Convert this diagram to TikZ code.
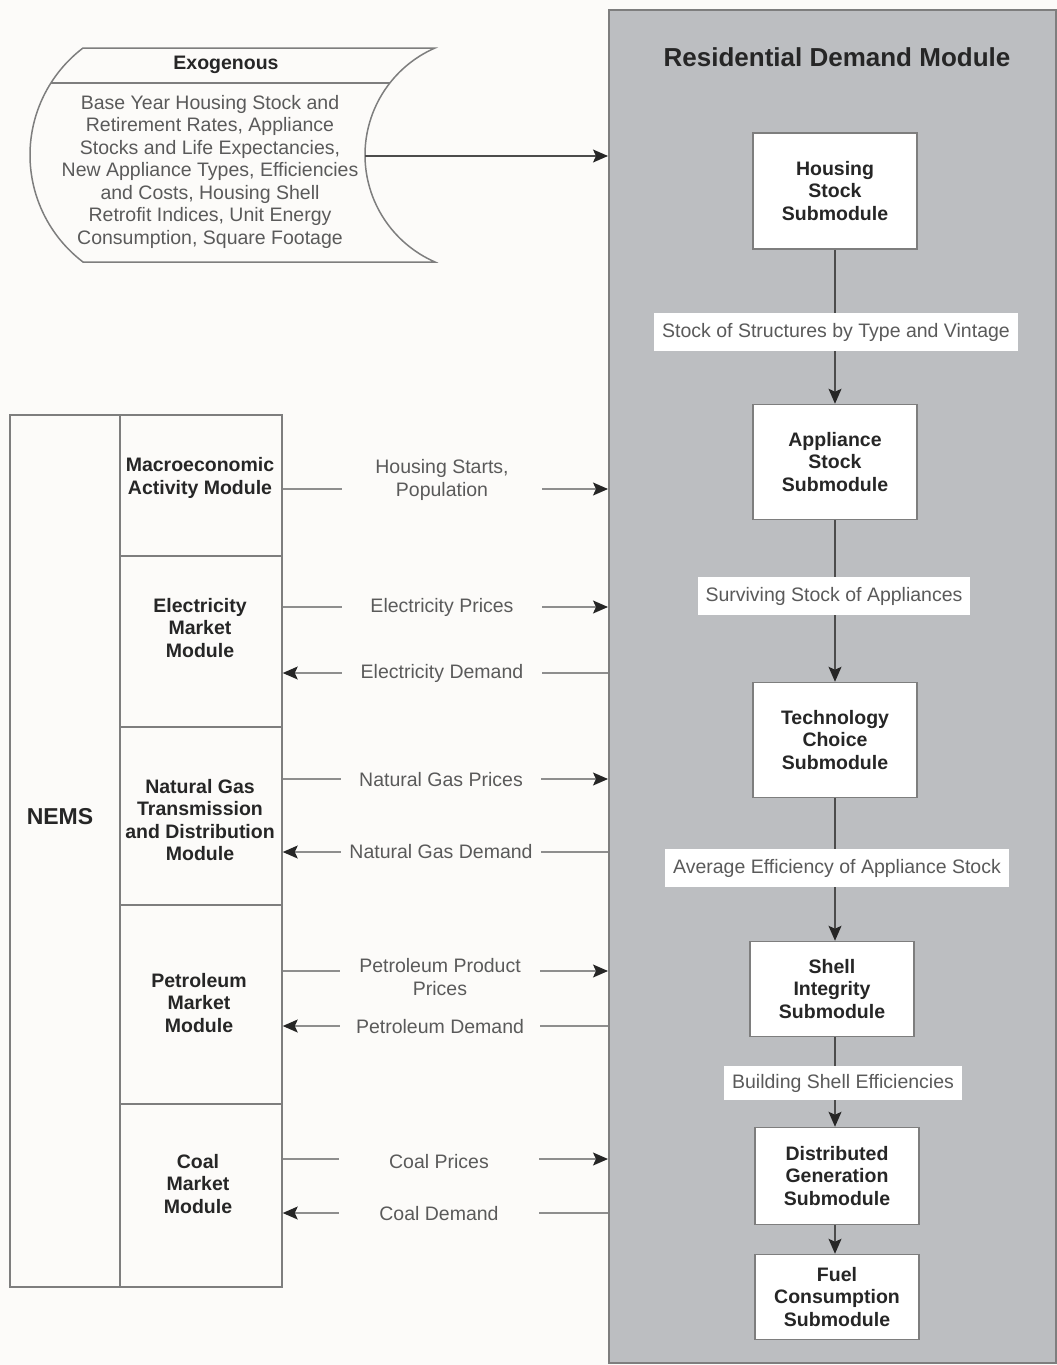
\documentclass[tikz,border=0pt]{standalone}
\usepackage{fontspec}
\setmainfont{Liberation Sans}
\usetikzlibrary{arrows.meta}
\definecolor{rdmgrey}{HTML}{BCBEC1}
\definecolor{edgegrey}{HTML}{7E7E7E}
\definecolor{txtdark}{HTML}{262626}
\definecolor{txtgrey}{HTML}{5A5A5A}
\definecolor{linegrey}{HTML}{8E8E8E}
\definecolor{pagebg}{HTML}{FCFBF9}
\begin{document}
\begin{tikzpicture}[x=1pt,y=-1pt,
  every node/.style={font=\fontsize{19.5}{22.5}\selectfont, align=center},
  subbox/.style={draw=edgegrey, line width=1.5pt, fill=white, minimum width=164pt, inner sep=0pt,
    font=\fontsize{19.5}{22.5}\selectfont\bfseries, text=txtdark},
  flowlabel/.style={fill=white, inner xsep=8pt, inner ysep=0pt, minimum height=38pt, text=txtgrey},
  sidelabel/.style={fill=pagebg, minimum width=200pt, inner xsep=2pt, inner ysep=1pt, text=txtgrey},
  cell/.style={draw=edgegrey, line width=1.5pt, minimum width=162pt, inner sep=0pt},
  celltext/.style={font=\fontsize{19.5}{22.5}\selectfont\bfseries, text=txtdark},
  flow/.style={draw=black!70, line width=1.3pt, -{Stealth[length=15pt,width=13pt,inset=3pt,color=black!85]}},
  feed/.style={draw=linegrey, line width=1.3pt, -{Stealth[length=15pt,width=13pt,inset=3pt,color=black!85]}},
]
\useasboundingbox (0,0) rectangle (1057,1365);
\fill[pagebg] (0,0) rectangle (1057,1365);

% Residential Demand Module frame
\node[draw=edgegrey, line width=2pt, fill=rdmgrey, minimum width=447pt, minimum height=1353pt,
  anchor=north west, inner sep=0pt] (rdm) at (608,9) {};
\node[font=\fontsize{26}{30}\selectfont\bfseries, text=txtdark] (title) at (837,57) {Residential Demand Module};

% submodules
\node[subbox, minimum height=116pt] (hs) at (835,191) {Housing\\Stock\\Submodule};
\node[subbox, minimum height=115pt] (as) at (835,462) {Appliance\\Stock\\Submodule};
\node[subbox, minimum height=115pt] (tc) at (835,740) {Technology\\Choice\\Submodule};
\node[subbox, minimum height=95pt] (si) at (832,989) {Shell\\Integrity\\Submodule};
\node[subbox, minimum height=97pt] (dg) at (837,1176) {Distributed\\Generation\\Submodule};
\node[subbox, minimum height=85pt] (fc) at (837,1297) {Fuel\\Consumption\\Submodule};

\draw[flow] (hs.south) -- (hs.south |- as.north);
\draw[flow] (as.south) -- (as.south |- tc.north);
\draw[flow] (tc.south) -- (tc.south |- si.north);
\draw[flow] (tc.south |- si.south) -- (tc.south |- dg.north);
\draw[flow] (tc.south |- dg.south) -- (tc.south |- fc.north);

\node[flowlabel] (l1) at (836,332) {Stock of Structures by Type and Vintage};
\node[flowlabel] (l2) at (834,596) {Surviving Stock of Appliances};
\node[flowlabel] (l3) at (837,868) {Average Efficiency of Appliance Stock};
\node[flowlabel, minimum height=34pt] (l4) at (843,1083) {Building Shell Efficiencies};

% Exogenous
\draw[draw=edgegrey, line width=1.5pt, fill=pagebg]
  (83,48) -- (435,48)
  .. controls (392.5,66.6) and (365,108.6) .. (365,155)
  .. controls (365,201.4) and (392.5,243.4) .. (435,262)
  -- (83,262)
  .. controls (49.6,236.5) and (30,197) .. (30,155)
  .. controls (30,113) and (49.6,73.5) .. (83,48) -- cycle;
\draw[draw=edgegrey, line width=1.5pt] (51,83) -- (390,83);
\coordinate (exoout) at (365,156);
\node[celltext] (exotitle) at (226,65) {Exogenous};
\node[text=txtgrey] (exobody) at (210,171.5) {Base Year Housing Stock and\\Retirement Rates, Appliance\\Stocks and Life Expectancies,\\New Appliance Types, Efficiencies\\and Costs, Housing Shell\\Retrofit Indices, Unit Energy\\Consumption, Square Footage};
\draw[flow] (exoout) -- (rdm.west |- exoout);

% NEMS
\node[cell, minimum width=110pt, minimum height=872pt] (cnems) at (65,851) {};
\node[cell, minimum height=141pt] (cmacro) at (201,485.5) {};
\node[cell, minimum height=171pt] (celec) at (201,641.5) {};
\node[cell, minimum height=178pt] (cng) at (201,816) {};
\node[cell, minimum height=199pt] (cpetro) at (201,1004.5) {};
\node[cell, minimum height=183pt] (ccoal) at (201,1195.5) {};

\node[font=\fontsize{23}{26}\selectfont\bfseries, text=txtdark] (tnems) at (60,817) {NEMS};
\node[celltext] (tmacro) at (200,478) {Macroeconomic\\Activity Module};
\node[celltext] (telec) at (200,628) {Electricity\\Market\\Module};
\node[celltext] (tng) at (200,820) {Natural Gas\\Transmission\\and Distribution\\Module};
\node[celltext] (tpetro) at (199,1003) {Petroleum\\Market\\Module};
\node[celltext] (tcoal) at (198,1184) {Coal\\Market\\Module};

% connectors NEMS <-> RDM
\draw[feed] (cmacro.east |- 0,489) -- (rdm.west |- 0,489);
\draw[feed] (celec.east |- 0,607) -- (rdm.west |- 0,607);
\draw[feed] (rdm.west |- 0,673) -- (celec.east |- 0,673);
\draw[feed] (cng.east |- 0,779) -- (rdm.west |- 0,779);
\draw[feed] (rdm.west |- 0,852) -- (cng.east |- 0,852);
\draw[feed] (cpetro.east |- 0,971) -- (rdm.west |- 0,971);
\draw[feed] (rdm.west |- 0,1026) -- (cpetro.east |- 0,1026);
\draw[feed] (ccoal.east |- 0,1159) -- (rdm.west |- 0,1159);
\draw[feed] (rdm.west |- 0,1213) -- (ccoal.east |- 0,1213);

\node[sidelabel] (lhs) at (442,480) {Housing Starts,\\Population};
\node[sidelabel] (lep) at (442,607) {Electricity Prices};
\node[sidelabel] (led) at (442,673) {Electricity Demand};
\node[sidelabel] (lngp) at (441,780) {Natural Gas Prices};
\node[sidelabel] (lngd) at (441,852) {Natural Gas Demand};
\node[sidelabel] (lpp) at (440,977) {Petroleum Product\\Prices};
\node[sidelabel] (lpd) at (440,1027) {Petroleum Demand};
\node[sidelabel] (lcp) at (439,1162) {Coal Prices};
\node[sidelabel] (lcd) at (439,1214) {Coal Demand};
\end{tikzpicture}
\end{document}
